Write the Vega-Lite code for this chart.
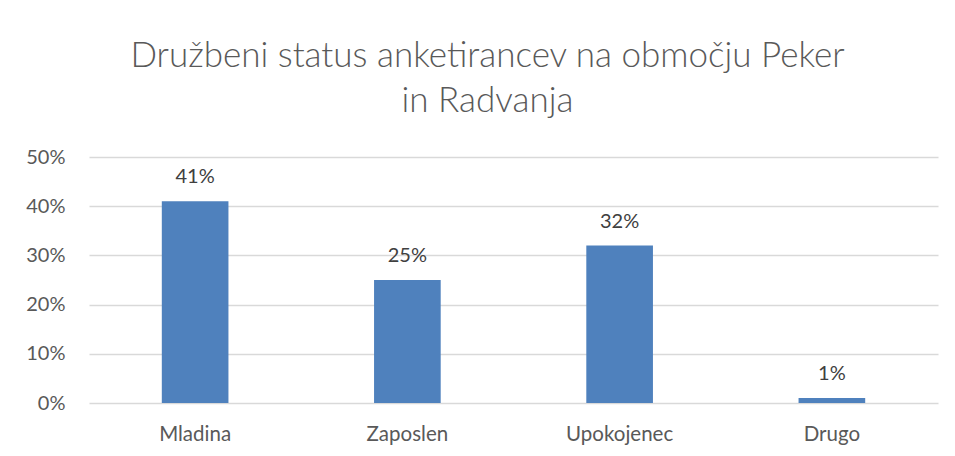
{
  "$schema": "https://vega.github.io/schema/vega-lite/v6.json",
  "width": 849,
  "height": 246,
  "autosize": "none",
  "padding": {"left": 89, "top": 157, "right": 17, "bottom": 53},
  "background": "white",
  "title": {
    "text": ["Družbeni status anketirancev na območju Peker", "in Radvanja"],
    "anchor": "middle",
    "dx": -26,
    "font": "Lato",
    "fontSize": 35,
    "fontWeight": 300,
    "color": "#595959",
    "lineHeight": 45.5,
    "offset": 28
  },
  "data": {
    "values": [
      {"status": "Mladina", "delez": 0.41},
      {"status": "Zaposlen", "delez": 0.25},
      {"status": "Upokojenec", "delez": 0.32},
      {"status": "Drugo", "delez": 0.01}
    ]
  },
  "encoding": {
    "x": {
      "field": "status",
      "type": "nominal",
      "sort": null,
      "scale": {"paddingInner": 0.686, "paddingOuter": 0.343},
      "axis": {
        "title": null,
        "labelAngle": 0,
        "domain": false,
        "ticks": false,
        "labelPadding": 21,
        "labelFont": "Lato",
        "labelFontSize": 20.5,
        "labelColor": "#595959"
      }
    },
    "y": {
      "field": "delez",
      "type": "quantitative",
      "scale": {"domain": [0, 0.5]},
      "axis": {
        "title": null,
        "format": ".0%",
        "values": [0, 0.1, 0.2, 0.3, 0.4, 0.5],
        "labelOverlap": false,
        "domain": false,
        "ticks": false,
        "labelPadding": 24,
        "labelFont": "Lato",
        "labelFontSize": 20,
        "labelColor": "#595959",
        "gridColor": "#d9d9d9",
        "gridWidth": 1.3
      }
    }
  },
  "layer": [
    {"mark": {"type": "bar", "color": "#4f81bd"}},
    {
      "mark": {"type": "text", "baseline": "alphabetic", "dy": -18, "font": "Lato", "fontSize": 20, "color": "#404040"},
      "encoding": {"text": {"field": "delez", "type": "quantitative", "format": ".0%"}}
    }
  ],
  "config": {"view": {"stroke": null}}
}
